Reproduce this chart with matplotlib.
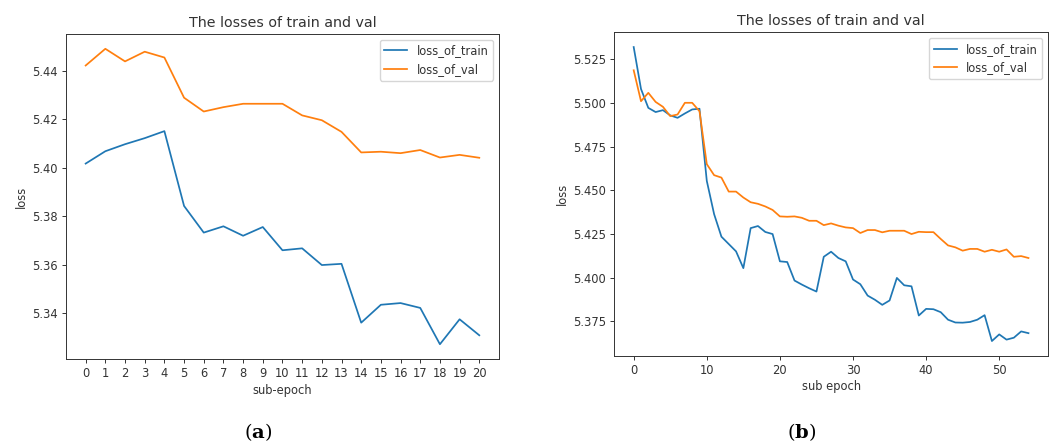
import matplotlib
matplotlib.use("Agg")
import matplotlib.pyplot as plt
import numpy as np

# ---- data (a) ----
epochs_a = list(range(21))
train_a = [5.4017, 5.4068, 5.4097, 5.4122, 5.4151, 5.3842, 5.3732, 5.3758, 5.3719, 5.3755,
           5.3659, 5.3667, 5.3598, 5.3603, 5.3360, 5.3434, 5.3441, 5.3421, 5.3271, 5.3374, 5.3308]
val_a = [5.4422, 5.4491, 5.4439, 5.4479, 5.4455, 5.4289, 5.4232, 5.4250, 5.4264, 5.4264,
         5.4264, 5.4216, 5.4196, 5.4148, 5.4063, 5.4066, 5.4060, 5.4073, 5.4042, 5.4053, 5.4041]

# ---- data (b) ----
epochs_b = list(range(55))
train_b = [5.5320, 5.5080, 5.4972, 5.4948, 5.4959, 5.4929, 5.4915, 5.4940, 5.4963, 5.4967,
           5.4554, 5.4364, 5.4235, 5.4193, 5.4151, 5.4055, 5.4284, 5.4296, 5.4262, 5.4250,
           5.4094, 5.4090, 5.3984, 5.3961, 5.3940, 5.3921, 5.4120, 5.4149, 5.4113, 5.4094,
           5.3990, 5.3963, 5.3898, 5.3874, 5.3845, 5.3870, 5.3999, 5.3957, 5.3951, 5.3784,
           5.3822, 5.3820, 5.3803, 5.3760, 5.3744, 5.3743, 5.3747, 5.3760, 5.3786, 5.3638,
           5.3676, 5.3646, 5.3657, 5.3693, 5.3683]
val_b = [5.5187, 5.5010, 5.5058, 5.5006, 5.4978, 5.4925, 5.4934, 5.5001, 5.5001, 5.4953,
         5.4650, 5.4587, 5.4573, 5.4493, 5.4493, 5.4459, 5.4432, 5.4423, 5.4408, 5.4388,
         5.4351, 5.4349, 5.4351, 5.4343, 5.4326, 5.4326, 5.4301, 5.4311, 5.4298, 5.4288,
         5.4284, 5.4256, 5.4273, 5.4273, 5.4260, 5.4269, 5.4269, 5.4269, 5.4250, 5.4263,
         5.4261, 5.4261, 5.4222, 5.4185, 5.4174, 5.4155, 5.4165, 5.4165, 5.4149, 5.4160,
         5.4149, 5.4162, 5.4120, 5.4124, 5.4113]

TITLE = "The losses of train and val"

plt.rcParams['mathtext.fontset'] = 'dejavuserif'
fig = plt.figure(figsize=(10.54, 4.43), dpi=100)

fs = 8.3
lw = 1.25
txt = '#333333'

ax1 = fig.add_axes([0.0626, 0.1896, 0.4108, 0.7336])
ax1.plot(epochs_a, train_a, color='#1f77b4', lw=lw, label='loss_of_train')
ax1.plot(epochs_a, val_a, color='#ff7f0e', lw=lw, label='loss_of_val')
ax1.set_xticks(epochs_a)

ax2 = fig.add_axes([0.5825, 0.197, 0.412, 0.730])
ax2.plot(epochs_b, train_b, color='#1f77b4', lw=lw, label='loss_of_train')
ax2.plot(epochs_b, val_b, color='#ff7f0e', lw=lw, label='loss_of_val')

for ax, xl in ((ax1, 'sub-epoch'), (ax2, 'sub epoch')):
    ax.set_title(TITLE, fontsize=10.3, color=txt, pad=5)
    ax.set_xlabel(xl, fontsize=fs, labelpad=2.5, color=txt)
    ax.set_ylabel('loss', fontsize=fs, labelpad=3, color=txt)
    ax.tick_params(labelsize=fs, length=2.9, width=0.7, pad=2.9, colors='#333333')
    leg = ax.legend(loc='upper right', fontsize=fs)
    for t in leg.get_texts():
        t.set_color(txt)
    for s in ax.spines.values():
        s.set_linewidth(0.7)
        s.set_color('#333333')

fig.text(258 / 1054, 1 - 432 / 443, r'($\mathbf{a}$)', ha='center', va='center',
         fontsize=14, family='DejaVu Serif')
fig.text(802 / 1054, 1 - 432 / 443, r'($\mathbf{b}$)', ha='center', va='center',
         fontsize=14, family='DejaVu Serif')

fig.savefig('out.png', dpi=100)
